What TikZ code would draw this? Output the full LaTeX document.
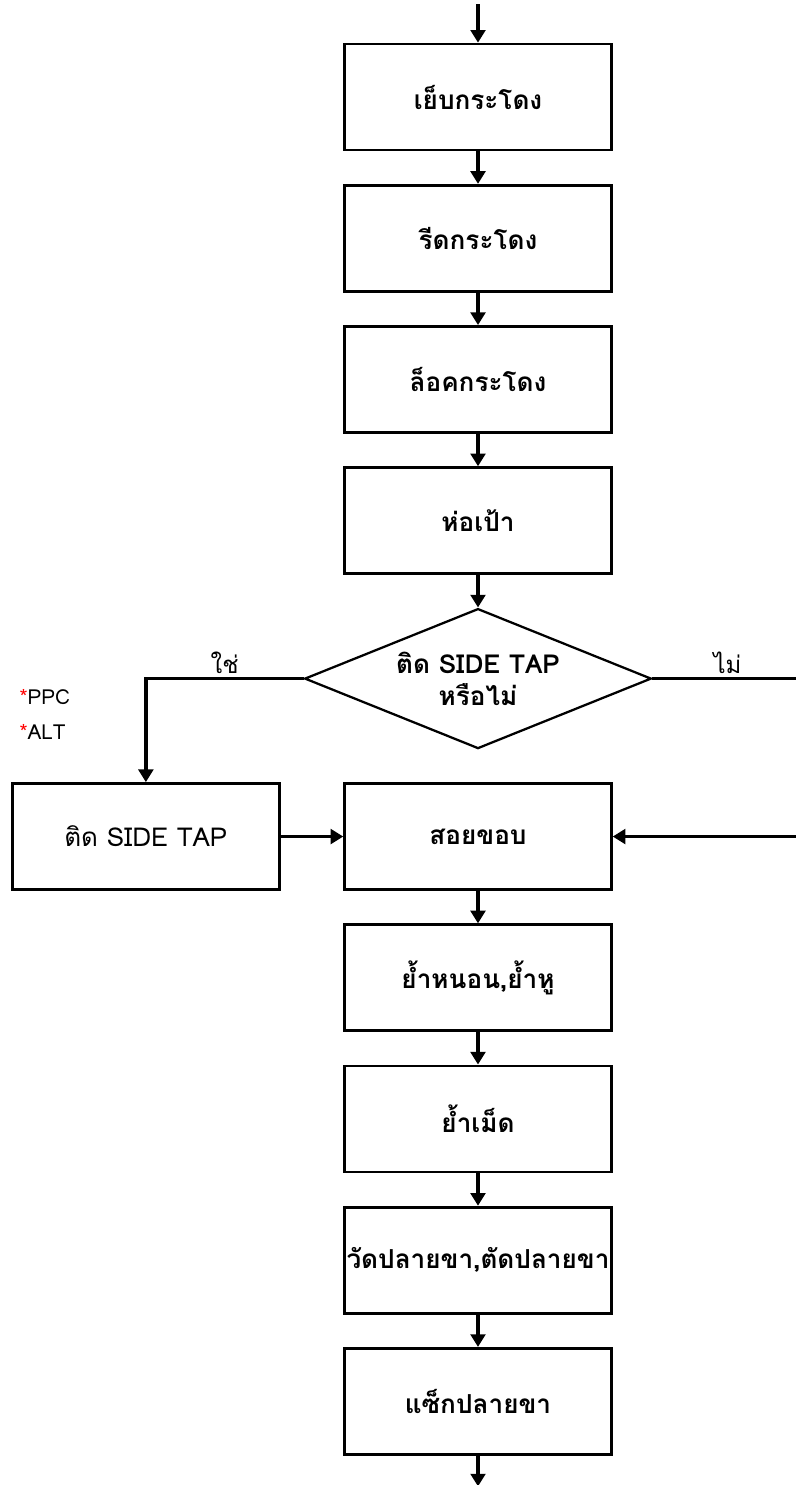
\documentclass[tikz,border=0pt]{standalone}
\usepackage{fontspec}
\setmainfont[Script=Thai]{Loma}
\usepackage{tikz}
\usetikzlibrary{arrows.meta,shapes,positioning}

\begin{document}
\begin{tikzpicture}[x=0.75pt, y=-0.75pt, font=\fontsize{19.6}{24}\selectfont, ->, >={Triangle[width=11pt,length=9.5pt]}, line width=2.8pt, node distance=24.3pt]
      \tikzstyle{proc} = [rectangle, draw, line width=2.1pt, minimum width=200pt, minimum height=79.5pt, inner sep=0.5pt, align=center, font=\fontsize{19.6}{24}\selectfont\bfseries]
      \tikzstyle{side} = [proc, font=\fontsize{19.5}{24}\selectfont]
      \tikzstyle{decide} = [diamond, draw, line width=1.7pt, aspect=2.48, minimum width=260pt, minimum height=105pt, inner sep=0pt, align=center, font=\fontsize{19.6}{24}\selectfont\bfseries]
      \tikzstyle{lbl} = [font=\fontsize{18}{22}\selectfont, inner sep=2pt]
      \tikzstyle{note} = [font=\fontsize{15.5}{19}\selectfont, inner sep=2pt, anchor=west]

      \useasboundingbox (0,0) rectangle (796,1485);

      \coordinate (in) at (478,4);
      \node[proc,   below=29pt of in] (yep)   {เย็บกระโดง};
      \node[proc,   below=of yep]     (reed)  {รีดกระโดง};
      \node[proc,   below=of reed]    (lock)  {ล็อคกระโดง};
      \node[proc,   below=of lock]    (wrap)  {ห่อเป้า};
      \node[decide, below=of wrap]    (dia)   {ติด SIDE TAP\\หรือไม่};
      \node[proc,   below=of dia]     (soy)   {สอยขอบ};
      \node[side,   left=47pt of soy] (tap)   {ติด SIDE TAP};
      \node[proc,   below=of soy]     (yam)   {ย้ำหนอน,ย้ำหู};
      \node[proc,   below=of yam]     (met)   {ย้ำเม็ด};
      \node[proc,   below=of met]     (cut)   {วัดปลายขา,ตัดปลายขา};
      \node[proc,   below=of cut]     (sak)   {แซ็กปลายขา};
      \coordinate[below=23pt of sak] (out);

      \node[note] (ppc) at (15,697) {\textcolor{red}{*}PPC};
      \node[note] (alt) at (15,732) {\textcolor{red}{*}ALT};

      \draw (in)   -- (yep);
      \draw (yep)  -- (reed);
      \draw (reed) -- (lock);
      \draw (lock) -- (wrap);
      \draw (wrap) -- (dia);
      \draw (dia.west) -| node[lbl, pos=0.25, above] {ใช่} (tap.north);
      \draw (dia.east) -- node[lbl, above] {ไม่} ++(150,0) |- (soy.east);
      \draw (tap)  -- (soy);
      \draw (soy)  -- (yam);
      \draw (yam)  -- (met);
      \draw (met)  -- (cut);
      \draw (cut)  -- (sak);
      \draw (sak)  -- (out);
    \end{tikzpicture}
\end{document}
